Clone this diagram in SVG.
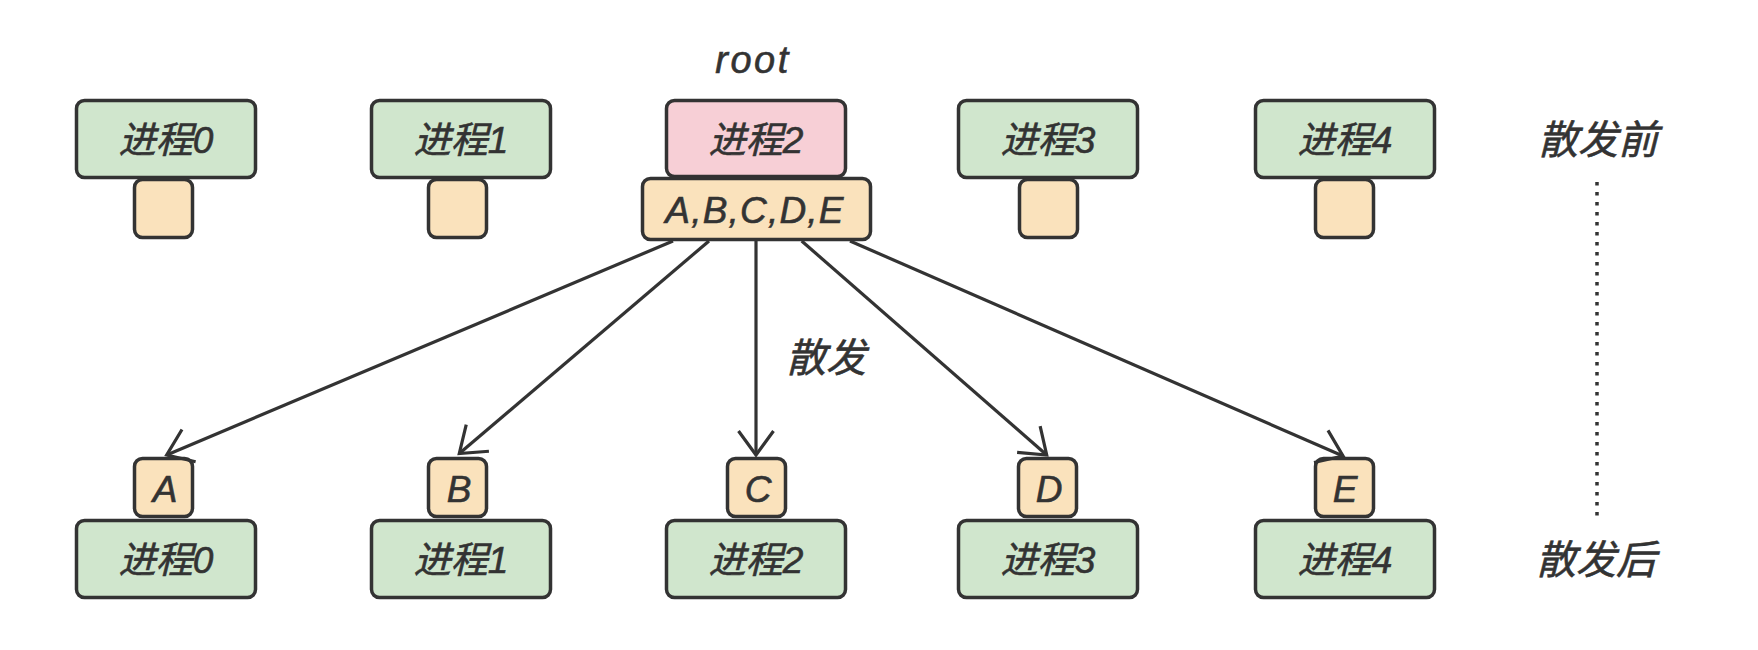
<svg xmlns="http://www.w3.org/2000/svg" width="1758" height="650" viewBox="0 0 1758 650">
<style>
.t{font-family:"Liberation Sans","Noto Sans CJK SC",sans-serif;font-style:italic;fill:#333333;stroke:#333333;stroke-width:0.6px;text-anchor:middle}
.n{font-size:37px}
.l{font-size:37px}
.lab{font-size:40px}
.g{fill:#d0e6cd;stroke:#333333;stroke-width:3.5}
.o{fill:#fae2bc;stroke:#333333;stroke-width:3.5}
.p{fill:#f7cfd6;stroke:#333333;stroke-width:3.5}
.e{fill:none;stroke:#333333;stroke-width:3.2}
</style>
<defs>
<marker id="arr" viewBox="-28 -20 32 40" refX="0" refY="0" markerWidth="32" markerHeight="40" markerUnits="userSpaceOnUse" orient="auto" overflow="visible">
<path d="M-24,-17.5 L0,0 L-24,17.5" fill="none" stroke="#333333" stroke-width="3.2"/>
</marker>
</defs>
<rect width="1758" height="650" fill="#ffffff"/>
<text class="t" x="753" y="73" style="font-size:38px;letter-spacing:2.5px">root</text>

<g id="top0">
<rect class="g" x="76.5" y="100.5" width="179" height="77" rx="8"/>
<rect class="o" x="134.5" y="179.5" width="58" height="58" rx="8"/>
<text class="t n" x="166" y="152.5">进程0</text>
</g>
<g id="top1">
<rect class="g" x="371.5" y="100.5" width="179" height="77" rx="8"/>
<rect class="o" x="428.5" y="179.5" width="58" height="58" rx="8"/>
<text class="t n" x="461" y="152.5">进程1</text>
</g>
<g id="top2">
<rect class="p" x="666.5" y="100.5" width="179" height="76" rx="8"/>
<rect class="o" x="642.5" y="178.5" width="228" height="61" rx="8"/>
<text class="t n" x="756" y="152.5">进程2</text>
<text class="t l" x="755" y="223" style="letter-spacing:1.2px">A,B,C,D,E</text>
</g>
<g id="top3">
<rect class="g" x="958.5" y="100.5" width="179" height="77" rx="8"/>
<rect class="o" x="1019.5" y="179.5" width="58" height="58" rx="8"/>
<text class="t n" x="1048" y="152.5">进程3</text>
</g>
<g id="top4">
<rect class="g" x="1255.5" y="100.5" width="179" height="77" rx="8"/>
<rect class="o" x="1315.5" y="179.5" width="58" height="58" rx="8"/>
<text class="t n" x="1345" y="152.5">进程4</text>
</g>

<g id="bot0">
<rect class="o" x="134.5" y="458.5" width="58" height="58" rx="8"/>
<text class="t l" x="165" y="501.5">A</text>
<rect class="g" x="76.5" y="520.5" width="179" height="77" rx="8"/>
<text class="t n" x="166" y="572.5">进程0</text>
</g>
<g id="bot1">
<rect class="o" x="428.5" y="458.5" width="58" height="58" rx="8"/>
<text class="t l" x="459" y="501.5">B</text>
<rect class="g" x="371.5" y="520.5" width="179" height="77" rx="8"/>
<text class="t n" x="461" y="572.5">进程1</text>
</g>
<g id="bot2">
<rect class="o" x="727.5" y="458.5" width="58" height="58" rx="8"/>
<text class="t l" x="758" y="501.5">C</text>
<rect class="g" x="666.5" y="520.5" width="179" height="77" rx="8"/>
<text class="t n" x="756" y="572.5">进程2</text>
</g>
<g id="bot3">
<rect class="o" x="1018.5" y="458.5" width="58" height="58" rx="8"/>
<text class="t l" x="1049" y="501.5">D</text>
<rect class="g" x="958.5" y="520.5" width="179" height="77" rx="8"/>
<text class="t n" x="1048" y="572.5">进程3</text>
</g>
<g id="bot4">
<rect class="o" x="1315.5" y="458.5" width="58" height="58" rx="8"/>
<text class="t l" x="1345" y="501.5">E</text>
<rect class="g" x="1255.5" y="520.5" width="179" height="77" rx="8"/>
<text class="t n" x="1345" y="572.5">进程4</text>
</g>

<g id="connectors">
<line class="e" x1="673" y1="241" x2="166.7" y2="455" marker-end="url(#arr)"/>
<line class="e" x1="709" y1="241" x2="459.3" y2="453.5" marker-end="url(#arr)"/>
<line class="e" x1="756" y1="241" x2="756" y2="455" marker-end="url(#arr)"/>
<line class="e" x1="801.7" y1="241" x2="1046.7" y2="455" marker-end="url(#arr)"/>
<line class="e" x1="850" y1="241" x2="1343" y2="456" marker-end="url(#arr)"/>
<line x1="1597" y1="182" x2="1597" y2="516" stroke="#333333" stroke-width="3.5" stroke-dasharray="3.5 6.5"/>
</g>

<text class="t lab" x="826" y="372">散发</text>
<text class="t lab" x="1598" y="154">散发前</text>
<text class="t lab" x="1596" y="574">散发后</text>
</svg>
